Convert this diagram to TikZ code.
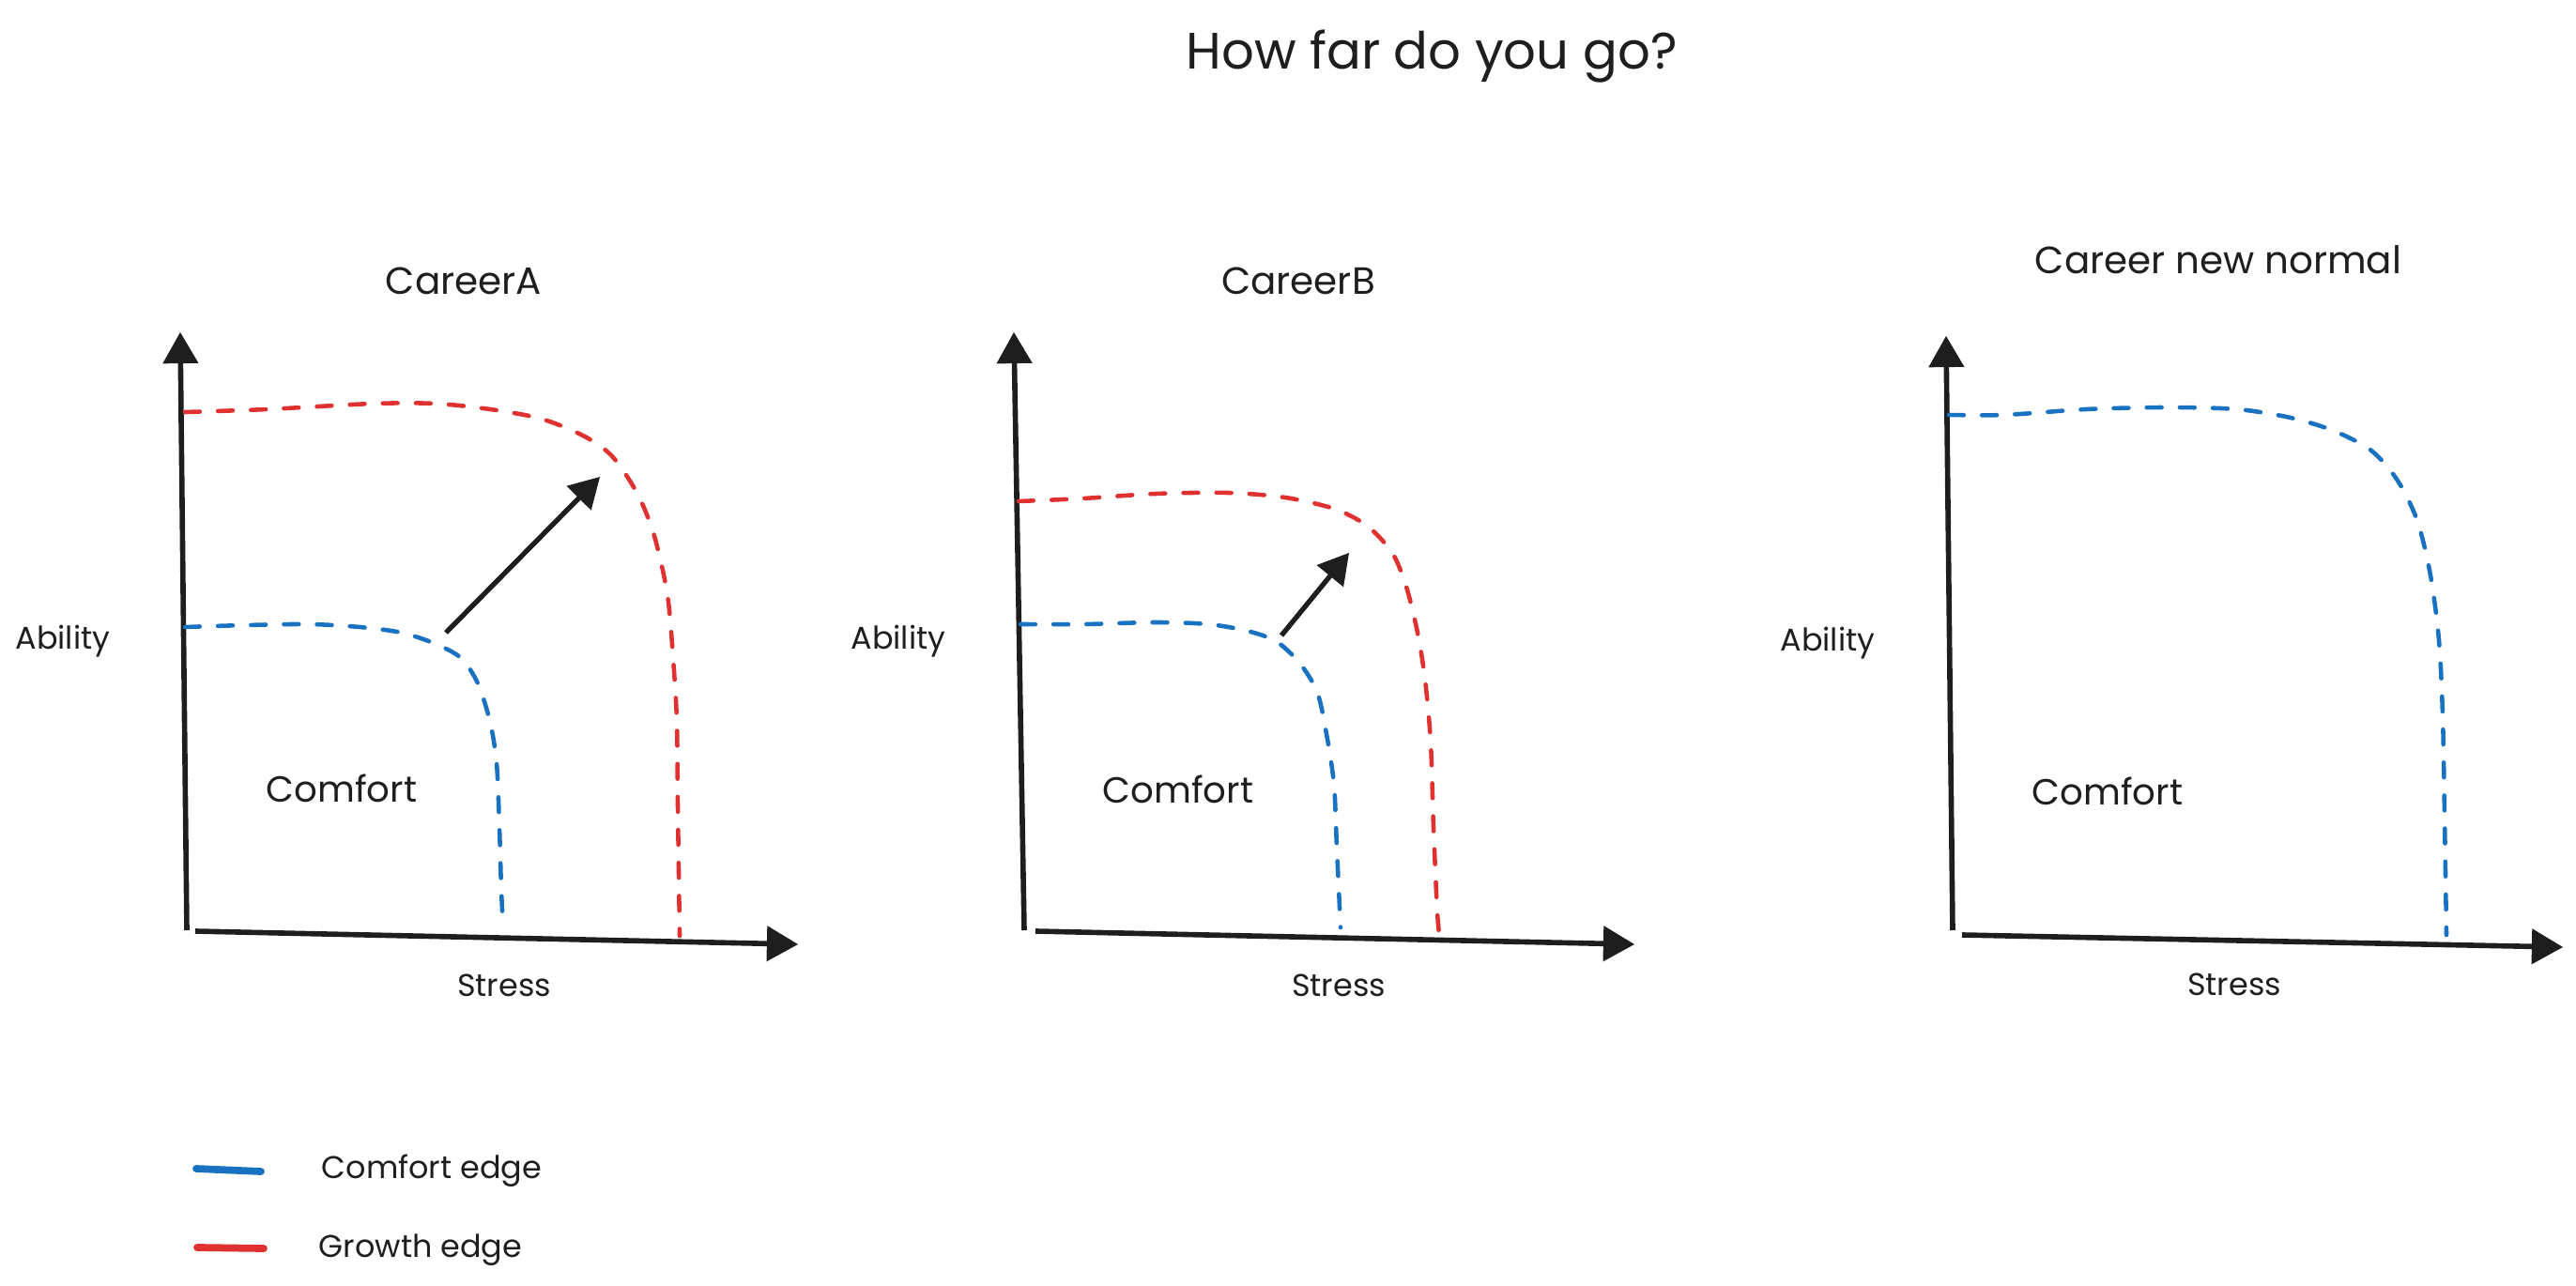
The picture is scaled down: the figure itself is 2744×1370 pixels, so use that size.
\documentclass[tikz,border=0pt]{standalone}
\usepackage{fontspec}
\setmainfont{Poppins}
\usetikzlibrary{arrows}
\definecolor{comfortblue}{HTML}{1971C2}
\definecolor{growthred}{HTML}{E03131}
\definecolor{ink}{HTML}{1E1E1E}
\tikzstyle{axis} = [line width=1.6pt, draw=ink, ->, >=triangle 60]
\tikzstyle{push} = [line width=1.5pt, draw=ink, ->, >=triangle 60]
\tikzstyle{comfortedge} = [line width=1.3pt, draw=comfortblue, line cap=round, dash pattern=on 4.5pt off 5.5pt]
\tikzstyle{growthedge} = [line width=1.3pt, draw=growthred, line cap=round, dash pattern=on 4.5pt off 5.5pt]
\tikzstyle{key} = [line width=2.2pt, line cap=round]
\tikzstyle{maintitle} = [font=\fontsize{15.5}{19}\selectfont, text=ink]
\tikzstyle{heading} = [font=\fontsize{11.5}{14}\selectfont, text=ink]
\tikzstyle{zone} = [font=\fontsize{11}{13}\selectfont, text=ink]
\tikzstyle{axislabel} = [font=\fontsize{9.5}{11}\selectfont, text=ink]

\begin{document}
\begin{tikzpicture}[x=0.01cm, y=-0.01cm]
\useasboundingbox (0,0) rectangle (2744,1370);

% Title
\node (title) [maintitle] at (1525,60) {How far do you go?};

% Career A
\node (headA) [heading] at (494,299) {CareerA};
\coordinate (oA) at (199,991);
\coordinate (yA) at (192,354);
\coordinate (sA) at (208,992);
\coordinate (xA) at (850,1006);
\draw [axis] (oA) -- (yA);
\draw [axis] (sA) -- (xA);
\draw [growthedge] plot [smooth] coordinates {(197,439) (285,436) (397,430) (464,430) (522,436) (576,446) (621,464) (652,486) (679,526) (697,571) (711,634) (717,701) (721,769) (722,858) (724,997)};
\draw [comfortedge] plot [smooth] coordinates {(197,668) (262,666) (329,665) (383,668) (428,674) (464,686) (491,701) (509,728) (522,769) (529,813) (532,881) (534,948) (536,988)};
\coordinate (fromA) at (475,674);
\coordinate (toA) at (639,508);
\draw [push] (fromA) -- (toA);
\node (comfA) [zone] at (364,840) {Comfort};
\node (abilA) [axislabel] at (67,683) {Ability};
\node (stressA) [axislabel] at (537,1050) {Stress};

% Career B
\node (headB) [heading] at (1383,299) {CareerB};
\coordinate (oB) at (1091,991);
\coordinate (yB) at (1080,354);
\coordinate (sB) at (1103,992);
\coordinate (xB) at (1741,1006);
\draw [axis] (oB) -- (yB);
\draw [axis] (sB) -- (xB);
\draw [growthedge] plot [smooth] coordinates {(1085,534) (1154,531) (1231,526) (1308,525) (1369,530) (1421,542) (1456,560) (1483,589) (1498,625) (1510,674) (1518,724) (1524,791) (1527,881) (1531,971) (1534,1004)};
\draw [comfortedge] plot [smooth] coordinates {(1087,665) (1154,665) (1231,663) (1287,665) (1328,672) (1359,683) (1384,706) (1403,737) (1413,782) (1421,836) (1424,903) (1428,988)};
\coordinate (fromB) at (1365,677);
\coordinate (toB) at (1437,589);
\draw [push] (fromB) -- (toB);
\node (comfB) [zone] at (1255,841) {Comfort};
\node (abilB) [axislabel] at (957,683) {Ability};
\node (stressB) [axislabel] at (1426,1050) {Stress};

% Career new normal
\node (headC) [heading] at (2363,277) {Career new normal};
\coordinate (oC) at (2080,991);
\coordinate (yC) at (2073,358);
\coordinate (sC) at (2090,996);
\coordinate (xC) at (2730,1009);
\draw [axis] (oC) -- (yC);
\draw [axis] (sC) -- (xC);
\draw [comfortedge] plot [smooth] coordinates {(2076,442) (2136,442) (2222,436) (2308,434) (2383,436) (2440,445) (2486,459) (2526,480) (2554,512) (2575,555) (2589,613) (2598,682) (2602,762) (2604,868) (2606,996)};
\node (comfC) [zone] at (2245,843) {Comfort};
\node (abilC) [axislabel] at (1947,685) {Ability};
\node (stressC) [axislabel] at (2380,1049) {Stress};

% Legend
\coordinate (keyB1) at (209,1245);
\coordinate (keyB2) at (278,1248);
\coordinate (keyR1) at (210,1329);
\coordinate (keyR2) at (281,1330);
\draw [key, comfortblue] (keyB1) -- (keyB2);
\draw [key, growthred] (keyR1) -- (keyR2);
\node (keyComf) [axislabel] at (460,1247) {Comfort edge};
\node (keyGrow) [axislabel] at (448,1332) {Growth edge};

\end{tikzpicture}
\end{document}
